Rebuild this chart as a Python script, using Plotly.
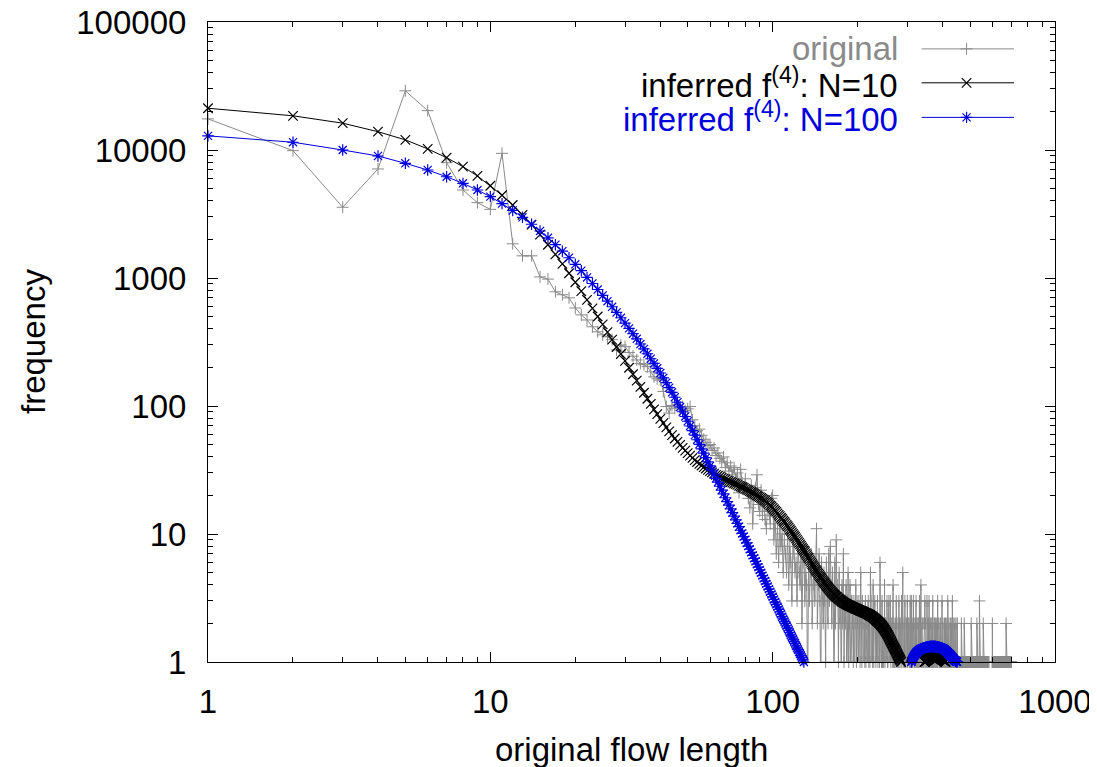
import plotly.graph_objects as go

FONT = "Liberation Sans, Arial, Helvetica, sans-serif"
GRAY = "#8a8a8a"
BLACK = "#000000"
BLUE = "#0000dd"

# ---------------- data (frequency per flow length, starting at length 1) ----------------
original_start = 1
original_freq = [
    17500, 9880, 3570, 7110, 29000, 20300, 7960, 4870, 3880, 3440,
    9420, 1850, 1490, 1490, 1020, 980, 780, 740, 700, 583,
    515, 470, 416, 380, 360, 347, 330, 274, 300, 291,
    262, 245, 229, 215, 210, 203, 185, 169, 163, 159,
    130, 99, 88, 101, 96, 103, 93, 99, 92, 95,
    99, 78, 70, 64, 66, 59, 55, 52, 49, 50,
    45, 47, 41, 43, 39, 37, 40, 33, 36, 31,
    34, 29, 33, 27, 30, 21, 32, 25, 23, 27,
    22, 19, 16, 24, 12, 21, 23, 29, 17, 15,
    22, 14, 18, 13, 11, 17, 15, 12, 19, 20,
    9, 14, 7, 11, 6, 12, 8, 10, 5, 9,
    7, 5, 10, 4, 8, 6, 3, 9, 7, 5,
    6, 3, 8, 5, 4, 7, 2, 6, 8, 3,
    5, 4, 0.5, 6, 3, 5, 7, 2, 4, 6,
    3, 5, 11, 2, 4, 7, 3, 0.5, 6, 4,
    2, 5, 3, 1, 6, 4, 2, 7, 3, 8,
    4, 2, 5, 3, 0.5, 6, 2, 9, 3, 4,
    1, 5, 2, 3, 0.5, 4, 2, 7, 1, 3,
    2, 4, 0.5, 3, 5, 1, 2, 4, 0.5, 3,
    3, 2, 1, 3, 0.5, 2, 4, 1, 3, 2,
    0.5, 3, 2, 1, 5, 2, 1, 3, 2, 0.5,
    2, 1, 3, 1, 2, 2, 0.5, 3, 1, 2,
    1, 5, 3, 0.5, 2, 1, 4, 1, 2, 3,
    2, 1, 2, 0.5, 3, 1, 2, 2, 1, 6,
    2, 0.5, 1, 3, 1, 2, 1, 0.5, 4, 1,
    2, 2, 0.5, 3, 1, 1, 2, 3, 0.5, 2,
    3, 1, 2, 0.5, 2, 1, 4, 1, 2, 1,
    0.5, 2, 1, 3, 2, 1, 0.5, 2, 1, 3,
    2, 1, 2, 0.5, 1, 3, 1, 2, 5, 0.5,
    1, 2, 1, 3, 1, 0.5, 2, 2, 1, 3,
    1, 2, 0.5, 2, 1, 1, 3, 1, 2, 3,
    1, 2, 1, 1, 3, 2, 0.5, 1, 2, 1,
    2, 3, 1, 2, 0.5, 1, 2, 2, 1, 1,
    3, 1, 0.5, 2, 4, 1, 1, 2, 1, 2,
    0.5, 1, 2, 1, 2, 3, 1, 2, 0.5, 1,
    1, 3, 1, 2, 0.5, 2, 1, 3, 1, 1,
    2, 1, 2, 0.5, 1, 2, 1, 1, 3, 1,
    1, 0.5, 2, 1, 2, 1, 2, 1, 0.5, 1,
    2, 1, 1, 3, 1, 2, 0.5, 2, 1, 1,
    1, 1, 2, 1, 0.5, 1, 1, 3, 1, 1,
    2, 1, 0.5, 1, 1, 2, 1, 1, 2, 1,
    1, 2, 1, 0.5, 1, 1, 3, 1, 1, 1,
    2, 1, 1, 1, 0.5, 2, 1, 1, 2, 1,
    1, 1, 3, 1, 1, 0.5, 1, 2, 1, 1,
    1, 2, 1, 1, 1, 2, 1, 0.5, 1, 1,
    2, 1, 1, 1, 1, 1, 1, 1, 0.5, 1,
    1, 1, 1, 1, 1, 2, 1, 1, 1, 1,
    1, 1, 1, 1, 1, 1, 2, 1, 1, 1,
    1, 1, 1, 1, 1, 1, 1, 1, 1, 1,
    1, 1, 1, 1, 1, 1, 1, 1, 1, 1,
    1, 1, 1, 1, 2, 1, 1, 1, 1, 1,
    1, 1, 1, 1, 1, 1, 1, 1, 1, 1,
    1, 1, 1, 1, 1, 1, 1, 1, 2, 1,
    1, 1, 1, 1, 1, 1, 1, 1, 1, 3,
    1, 1, 1, 1, 1, 1, 1, 1, 1, 1,
    1, 1, 1, 1, 1, 1, 2, 1, 1, 1,
    1, 1, 1, 1, 1, 1, 1, 1, 1, 1,
    1, 1, 1, 1, 1, 1, 1, 1, 1, 1,
    0.5, 0.5, 0.5, 1, 0.5, 0.5, 0.5, 0.5, 0.5, 0.5,
    0.5, 0.5, 0.5, 0.5, 0.5, 0.5, 0.5, 1, 0.5, 2,
    1, 1, 1, 1, 1, 1, 1, 1, 1, 1,
    1, 1, 1, 1, 1, 1, 1, 1, 1, 1,
    1, 1, 1, 1, 1, 1, 1, 1, 1, 1,
    1, 1, 1, 1, 1, 1, 1, 1, 1, 1,
    1, 1, 1, 1, 1, 1, 1, 1, 1, 1,
    1, 1, 1, 1, 1, 1, 1, 1, 1, 1,
    1, 1, 1, 1, 1, 1, 1, 1, 1, 1,
    2, 1, 1, 1, 1, 1, 1, 1, 1, 1,
    1, 1, 1, 1, 1, 1, 1, 1, 1, 1,
    1, 1, 1, 1, 1, 1, 1, 1, 1, 1,
]

n10_start = 1
n10_freq = [
    21200, 18500, 16200, 13900, 12000, 10200, 8710, 7410, 6270, 5260,
    4430, 3720, 3110, 2610, 2180, 1820, 1530, 1290, 1090, 927,
    789, 675, 579, 500, 434, 378, 330, 289, 255, 225,
    199, 177, 158, 141, 127, 114, 104, 94.2, 86.3, 79.4,
    73.5, 68.1, 63.4, 59.3, 55.7, 52.5, 49.7, 47.1, 44.8, 42.8,
    40.9, 39.3, 37.8, 36.5, 35.3, 34.3, 33.3, 32.5, 31.7, 31.0,
    30.3, 29.6, 29.0, 28.5, 28.0, 27.5, 27.1, 26.7, 26.2, 25.9,
    25.5, 25.2, 24.8, 24.5, 24.2, 23.8, 23.5, 23.2, 22.9, 22.5,
    22.2, 21.9, 21.6, 21.3, 21.0, 20.7, 20.4, 20.0, 19.7, 19.4,
    19.1, 18.8, 18.5, 18.2, 17.8, 17.5, 17.1, 16.7, 16.4, 16.0,
    15.6, 15.2, 14.9, 14.5, 14.1, 13.8, 13.4, 13.1, 12.7, 12.4,
    12.1, 11.8, 11.5, 11.2, 10.9, 10.6, 10.3, 10.0, 9.75, 9.51,
    9.25, 8.99, 8.77, 8.53, 8.30, 8.07, 7.85, 7.64, 7.43, 7.23,
    7.03, 6.84, 6.65, 6.49, 6.31, 6.14, 5.98, 5.82, 5.68, 5.53,
    5.40, 5.26, 5.14, 5.01, 4.90, 4.79, 4.68, 4.57, 4.48, 4.38,
    4.29, 4.20, 4.12, 4.04, 3.96, 3.89, 3.82, 3.75, 3.68, 3.62,
    3.56, 3.51, 3.46, 3.41, 3.37, 3.32, 3.28, 3.24, 3.21, 3.17,
    3.13, 3.10, 3.07, 3.04, 3.01, 2.98, 2.95, 2.93, 2.90, 2.88,
    2.86, 2.84, 2.82, 2.80, 2.78, 2.77, 2.75, 2.74, 2.72, 2.71,
    2.69, 2.68, 2.67, 2.65, 2.64, 2.62, 2.61, 2.60, 2.59, 2.58,
    2.56, 2.55, 2.54, 2.52, 2.51, 2.50, 2.49, 2.48, 2.47, 2.45,
    2.44, 2.43, 2.42, 2.41, 2.40, 2.39, 2.38, 2.36, 2.35, 2.33,
    2.32, 2.31, 2.29, 2.28, 2.26, 2.24, 2.23, 2.21, 2.19, 2.18,
    2.16, 2.14, 2.12, 2.10, 2.09, 2.07, 2.05, 2.03, 2.01, 2.00,
    1.97, 1.95, 1.93, 1.91, 1.89, 1.86, 1.84, 1.82, 1.79, 1.77,
    1.74, 1.72, 1.69, 1.67, 1.64, 1.62, 1.59, 1.57, 1.54, 1.51,
    1.49, 1.46, 1.44, 1.41, 1.39, 1.37, 1.34, 1.32, 1.30, 1.28,
    1.26, 1.24, 1.22, 1.20, 1.18, 1.16, 1.14, 1.12, 1.10, 1.09,
    1.07, 1.05, 1.04, 1.02, 1.00, 0.98, 0.97, 0.955, 0.94, 0.93,
    0.915, 0.90, 0.89, 0.88, 0.87, 0.86, 0.85, 0.84, 0.83, 0.82,
    0.81, 0.80, 0.795, 0.79, 0.785, 0.78, 0.775, 0.77, 0.77, 0.765,
    0.765, 0.76, 0.76, 0.76, 0.76, 0.76, 0.765, 0.77, 0.775, 0.78,
    0.785, 0.79, 0.80, 0.81, 0.82, 0.83, 0.84, 0.85, 0.86, 0.87,
    0.88, 0.89, 0.90, 0.91, 0.92, 0.93, 0.94, 0.95, 0.96, 0.97,
    0.98, 0.985, 0.99, 0.995, 1.0, 1.005, 1.01, 1.015, 1.02, 1.025,
    1.03, 1.035, 1.04, 1.045, 1.05, 1.055, 1.06, 1.065, 1.07, 1.072,
    1.075, 1.078, 1.08, 1.082, 1.084, 1.086, 1.088, 1.09, 1.091, 1.092,
    1.093, 1.094, 1.095, 1.095, 1.096, 1.096, 1.096, 1.095, 1.095, 1.094,
    1.093, 1.092, 1.091, 1.09, 1.088, 1.086, 1.084, 1.082, 1.08, 1.077,
    1.074, 1.071, 1.068, 1.065, 1.062, 1.058, 1.054, 1.05, 1.046, 1.042,
    1.038, 1.034, 1.03, 1.026, 1.022, 1.018, 1.014, 1.01, 1.006, 1.002,
    0.997, 0.99, 0.98, 0.97, 0.96, 0.95, 0.94, 0.93, 0.92, 0.91,
    0.90, 0.89, 0.88, 0.87, 0.86, 0.85, 0.84, 0.83, 0.82, 0.81,
]

n100_start = 1
n100_freq = [
    12900, 11500, 10000, 8980, 7870, 6980, 6180, 5490, 4870, 4320,
    3810, 3370, 2980, 2630, 2330, 2060, 1820, 1620, 1440, 1280,
    1140, 1010, 906, 813, 731, 659, 596, 538, 489, 444,
    404, 367, 335, 305, 279, 256, 234, 215, 197, 181,
    166, 152, 139, 128, 117, 107, 98.2, 90.2, 82.8, 76.0,
    69.8, 64.3, 59.2, 54.5, 50.2, 46.3, 42.8, 39.5, 36.6, 34.0,
    31.6, 29.3, 27.2, 25.4, 23.6, 22.0, 20.6, 19.2, 17.9, 16.8,
    15.7, 14.7, 13.8, 12.9, 12.1, 11.4, 10.7, 10.1, 9.55, 9.02,
    8.51, 8.04, 7.60, 7.19, 6.81, 6.46, 6.12, 5.81, 5.51, 5.24,
    4.98, 4.73, 4.50, 4.29, 4.08, 3.89, 3.71, 3.54, 3.38, 3.23,
    3.08, 2.94, 2.82, 2.70, 2.58, 2.47, 2.37, 2.26, 2.17, 2.08,
    2.00, 1.92, 1.84, 1.77, 1.70, 1.63, 1.57, 1.51, 1.45, 1.40,
    1.34, 1.29, 1.25, 1.20, 1.16, 1.12, 1.08, 1.04, 1.00, 0.97,
    0.93, 0.90, 0.87, 0.84, 0.81,
]

n100_tail_start = 300
n100_tail_freq = [
    0.80, 0.82, 0.84, 0.86, 0.88, 0.90, 0.92, 0.94, 0.96, 0.98,
    1.00, 1.02, 1.04, 1.06, 1.075, 1.09, 1.10, 1.115, 1.13, 1.14,
    1.15, 1.16, 1.17, 1.18, 1.19, 1.20, 1.21, 1.215, 1.22, 1.23,
    1.235, 1.24, 1.245, 1.25, 1.255, 1.26, 1.265, 1.27, 1.27, 1.275,
    1.28, 1.28, 1.285, 1.29, 1.29, 1.295, 1.295, 1.30, 1.30, 1.30,
    1.305, 1.305, 1.31, 1.31, 1.31, 1.31, 1.315, 1.315, 1.315, 1.315,
    1.32, 1.32, 1.32, 1.32, 1.32, 1.32, 1.32, 1.32, 1.32, 1.32,
    1.32, 1.32, 1.32, 1.32, 1.32, 1.32, 1.32, 1.32, 1.32, 1.315,
    1.315, 1.315, 1.315, 1.31, 1.31, 1.31, 1.31, 1.305, 1.305, 1.30,
    1.30, 1.30, 1.295, 1.295, 1.29, 1.29, 1.285, 1.285, 1.28, 1.28,
    1.275, 1.27, 1.27, 1.265, 1.26, 1.255, 1.25, 1.245, 1.24, 1.235,
    1.23, 1.225, 1.22, 1.21, 1.205, 1.20, 1.19, 1.185, 1.18, 1.17,
    1.165, 1.16, 1.155, 1.15, 1.145, 1.14, 1.13, 1.125, 1.12, 1.11,
    1.105, 1.10, 1.09, 1.085, 1.08, 1.07, 1.065, 1.06, 1.05, 1.045,
    1.04, 1.035, 1.03, 1.025, 1.02, 1.017, 1.014, 1.011, 1.008, 1.005,
    1.002, 0.999, 0.995, 0.99, 0.985, 0.98, 0.97, 0.96, 0.95, 0.94,
    0.93, 0.92, 0.91, 0.90, 0.89, 0.88, 0.87, 0.86, 0.85, 0.84, 0.83,
]

x_tick_vals = [1, 10, 100, 1000]
x_tick_text = ["1", "10", "100", "1000"]
y_tick_vals = [1, 10, 100, 1000, 10000, 100000]
y_tick_text = ["1", "10", "100", "1000", "10000", "100000"]
x_title = "original flow length"
y_title = "frequency"
legend_names = ["original",
                "inferred f<sup>(4)</sup>: N=10",
                "inferred f<sup>(4)</sup>: N=100"]

# ---------------- helpers ----------------
def lengths(start, vals):
    return list(range(start, start + len(vals)))


def in_range(xs, ys):
    pts = [(a, b) for a, b in zip(xs, ys) if a is not None and b is not None and b >= 1]
    return [p[0] for p in pts], [p[1] for p in pts]


x_minor = [m * d for d in (1, 10, 100) for m in range(2, 10)]
y_minor = [m * d for d in (1, 10, 100, 1000, 10000) for m in range(2, 10)]

series = [
    dict(x=lengths(original_start, original_freq), y=original_freq,
         color=GRAY, symbol="cross-thin", size=8.5, mlw=1.0),
    dict(x=lengths(n10_start, n10_freq), y=n10_freq,
         color=BLACK, symbol="x-thin", size=9.5, mlw=1.2),
    dict(x=lengths(n100_start, n100_freq) + [None] + lengths(n100_tail_start, n100_tail_freq),
         y=n100_freq + [None] + n100_tail_freq,
         color=BLUE, symbol="asterisk", size=9.5, mlw=1.2),
]

fig = go.Figure()
for s in series:
    fig.add_trace(go.Scatter(x=s["x"], y=s["y"], mode="lines",
                             line=dict(color=s["color"], width=1),
                             connectgaps=False, hoverinfo="skip"))
    mx, my = in_range(s["x"], s["y"])
    fig.add_trace(go.Scatter(x=mx, y=my, mode="markers", cliponaxis=False,
                             marker=dict(symbol=s["symbol"], size=s["size"],
                                         color=s["color"],
                                         line=dict(color=s["color"], width=s["mlw"])),
                             hoverinfo="skip"))

# ---------------- gnuplot-style key (text right-aligned, sample on the right) ----------------
key_rows = [0.958, 0.905, 0.851]
key_x0, key_x1, key_xm, key_text_x = 0.8426, 0.9516, 0.8956, 0.817
for s, name, ry in zip(series, legend_names, key_rows):
    fig.add_trace(go.Scatter(x=[key_x0, key_x1], y=[ry, ry], mode="lines",
                             xaxis="x3", yaxis="y3", cliponaxis=False,
                             line=dict(color=s["color"], width=1), hoverinfo="skip"))
    fig.add_trace(go.Scatter(x=[key_xm], y=[ry], mode="markers",
                             xaxis="x3", yaxis="y3", cliponaxis=False,
                             marker=dict(symbol=s["symbol"], size=s["size"],
                                         color=s["color"],
                                         line=dict(color=s["color"], width=s["mlw"])),
                             hoverinfo="skip"))
    fig.add_annotation(x=key_text_x, y=ry, xref="paper", yref="paper",
                       xanchor="right", yanchor="middle", showarrow=False,
                       text=name, font=dict(family=FONT, size=33, color=s["color"]))

fig.add_annotation(x=0.5, y=-0.137, xref="paper", yref="paper",
                   xanchor="center", yanchor="middle", showarrow=False,
                   text=x_title, font=dict(family=FONT, size=33, color="black"))
fig.add_annotation(x=-0.2066, y=0.5, xref="paper", yref="paper",
                   xanchor="center", yanchor="middle", showarrow=False, textangle=-90,
                   text=y_title, font=dict(family=FONT, size=33, color="black"))

axis_common = dict(
    type="log", ticks="inside", ticklen=10, tickwidth=1, tickcolor="black",
    showline=True, linecolor="black", linewidth=1, mirror="allticks",
    showgrid=False, zeroline=False, automargin=False, ticklabeloverflow="allow",
    tickfont=dict(family=FONT, size=33, color="black"),
)

# the page body adds an 8 px offset, so the figure is 8 px smaller and margins shifted
fig.update_layout(
    width=1089, height=759,
    margin=dict(l=200, r=42, t=14, b=105, autoexpand=False),
    paper_bgcolor="white", plot_bgcolor="white",
    showlegend=False,
    font=dict(family=FONT, size=33, color="black"),
    xaxis=dict(axis_common, range=[0, 3], tickvals=x_tick_vals, ticktext=x_tick_text,
               ticklabelstandoff=10,
               minor=dict(tickvals=x_minor, ticks="inside", ticklen=5,
                          tickcolor="black", tickwidth=1, showgrid=False)),
    yaxis=dict(axis_common, range=[0, 5], tickvals=y_tick_vals, ticktext=y_tick_text,
               ticklabelstandoff=14,
               minor=dict(tickvals=y_minor, ticks="inside", ticklen=5,
                          tickcolor="black", tickwidth=1, showgrid=False)),
    xaxis3=dict(overlaying="x", anchor="y3", range=[0, 1], visible=False),
    yaxis3=dict(overlaying="y", anchor="x3", range=[0, 1], visible=False),
)

fig.write_html("out.html")
